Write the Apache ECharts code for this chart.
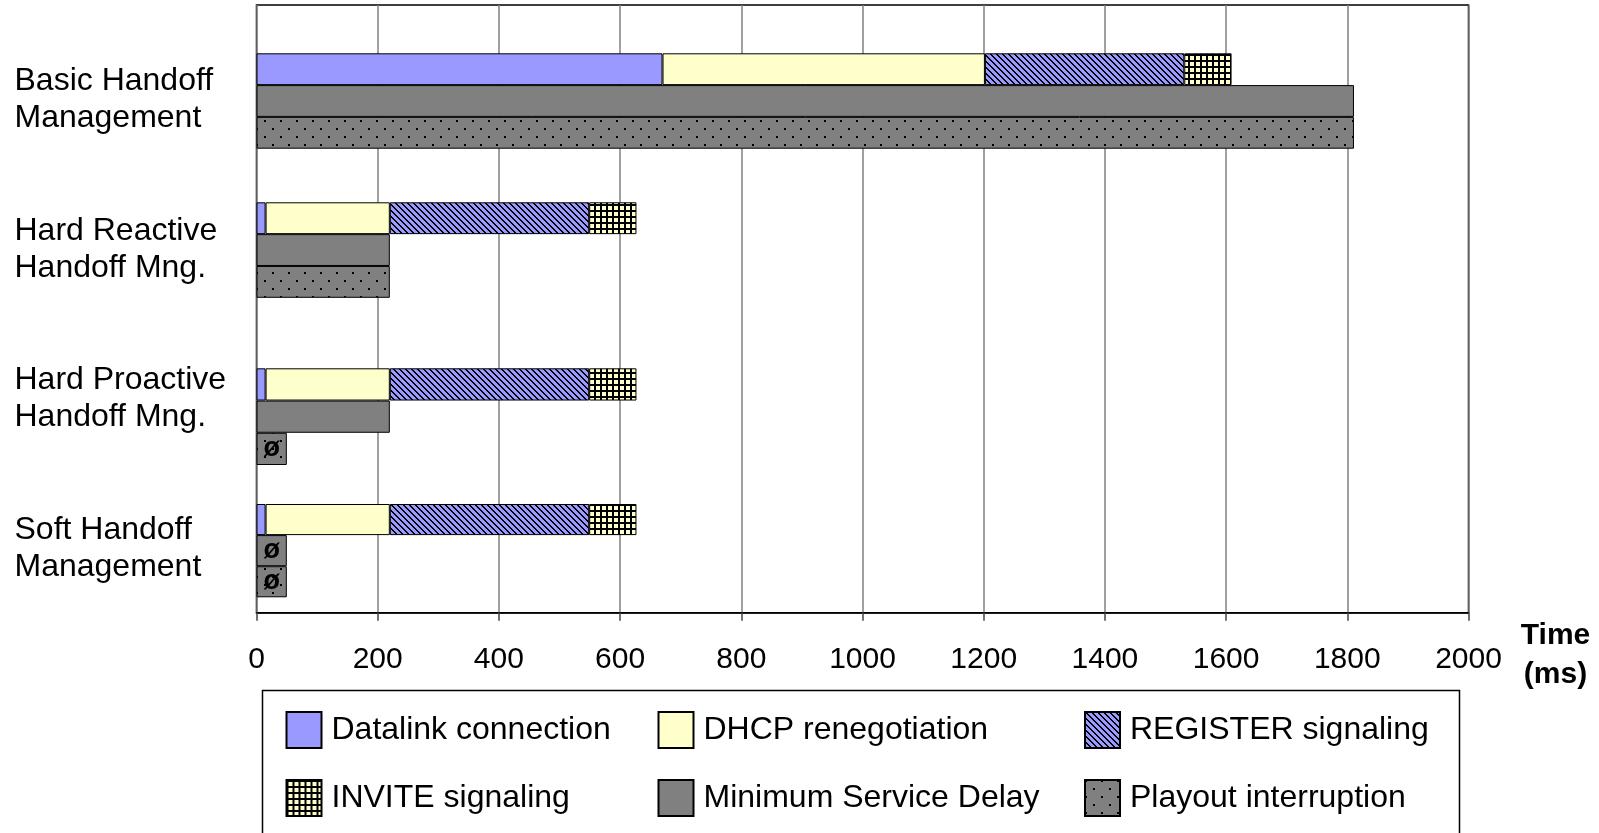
<!DOCTYPE html>
<html>
<head>
<meta charset="utf-8">
<style>
  html, body { margin: 0; padding: 0; background: #fff; }
  #chart { width: 1599px; height: 833px; }
</style>
<script src="https://cdn.jsdelivr.net/npm/echarts@6/dist/echarts.min.js"></script>
</head>
<body>
<div id="chart"></div>
<script>
// ---------------- data ----------------
const categories = [
  'Basic Handoff\nManagement',
  'Hard Reactive\nHandoff Mng.',
  'Hard Proactive\nHandoff Mng.',
  'Soft Handoff\nManagement'
];
const rowNames = ['signaling', 'service delay', 'playout'];
const datalink        = [670, 15, 15, 15];
const dhcp            = [532, 205, 205, 205];
const register        = [329, 329, 329, 329];
const invite          = [78, 78, 78, 78];
const minServiceDelay = [1811, 220, 220, 0];
const playout         = [1811, 220, 0, 0];
const xMin = 0, xMax = 2000, xInterval = 200;
const axisTitleLines = ['Time', '(ms)'];
const seriesNames = ['Datalink connection', 'DHCP renegotiation', 'REGISTER signaling',
                     'INVITE signaling', 'Minimum Service Delay', 'Playout interruption'];

// ---------------- layout / style ----------------
const FONT = 'Liberation Sans, Arial, sans-serif';
const plotLeft = 256.5, plotTop = 5, plotWidth = 1212, plotHeight = 607.7;
const groupTop    = [53.3, 202.3, 368.3, 504];
const groupHeight = [95.4, 95.5, 96.7, 93.3];
const labelLift   = [1.5, 0, 17.5, 1.5];
const ZERO_MARK_WIDTH = 50; // drawn width of a "ø" (zero) marker bar

function makePattern(w, h, bg, draw) {
  const c = document.createElement('canvas');
  c.width = w; c.height = h;
  const g = c.getContext('2d');
  g.fillStyle = bg; g.fillRect(0, 0, w, h);
  g.fillStyle = '#000';
  draw(g, w, h);
  return { image: c, repeat: 'repeat' };
}
const registerFill = makePattern(6, 6, '#9999FF', (g, w) => {
  for (let i = 0; i < w; i++) { g.fillRect(i, i, 1, 1); g.fillRect((i + 1) % w, i, 1, 1); }
});
const inviteFill = makePattern(6, 6, '#FFFFCC', (g) => {
  g.fillRect(0, 0, 6, 2); g.fillRect(0, 0, 2, 6);
});
const playoutFill = makePattern(16, 16, '#808080', (g) => {
  g.fillRect(0, 0, 2, 2); g.fillRect(8, 8, 2, 2);
});

const colors = {
  'Datalink connection': '#9999FF',
  'DHCP renegotiation': '#FFFFCC',
  'REGISTER signaling': registerFill,
  'INVITE signaling': inviteFill,
  'Minimum Service Delay': '#808080',
  'Playout interruption': playoutFill
};

const grids = [{ left: plotLeft, top: plotTop, width: plotWidth, height: plotHeight,
                 show: true, borderColor: '#000', borderWidth: 1.5, backgroundColor: 'transparent' }];
const xAxes = [{
  gridIndex: 0, type: 'value', min: xMin, max: xMax, interval: xInterval,
  axisLine: { show: true, lineStyle: { color: '#000', width: 1.5 } },
  axisTick: { show: true, length: 8, lineStyle: { color: '#444', width: 1.5 } },
  splitLine: { show: true, lineStyle: { color: '#808080', width: 1.5 } },
  axisLabel: { fontSize: 30, color: '#000', margin: 32, fontFamily: FONT,
               formatter: (v) => String(v) },
  name: '{s| }\n' + axisTitleLines.map(s => '{t|' + s + '}').join('\n'),
  nameLocation: 'end', nameGap: 87,
  nameTextStyle: {
    align: 'center', verticalAlign: 'top', fontFamily: FONT,
    rich: {
      s: { fontSize: 1, lineHeight: 4 },
      t: { fontSize: 30, fontWeight: 'bold', color: '#000', lineHeight: 39, fontFamily: FONT }
    }
  }
}];
const yAxes = [{ gridIndex: 0, type: 'value', show: false, splitLine: { show: false } }];
const series = [];

function zeroItem(v) {
  if (v === 0) {
    return { value: ZERO_MARK_WIDTH,
             label: { show: true, formatter: 'ø', position: 'inside', fontSize: 27,
                      fontWeight: 'bold', color: '#000', fontFamily: FONT } };
  }
  return v;
}

for (let i = 0; i < categories.length; i++) {
  const gi = i + 1;
  grids.push({ left: plotLeft, top: groupTop[i], width: plotWidth, height: groupHeight[i] });
  xAxes.push({ gridIndex: gi, type: 'value', min: xMin, max: xMax, show: false });
  const lift = labelLift[i];
  yAxes.push({
    gridIndex: gi, type: 'category', inverse: true, data: rowNames,
    axisLine: { show: false }, axisTick: { show: false }, splitLine: { show: false },
    axisLabel: {
      interval: 0, align: 'left', margin: plotLeft - 14.5,
      color: '#000', fontFamily: FONT,
      rich: {
        t: { fontSize: 32, lineHeight: 37, color: '#000', fontFamily: FONT },
        s: { fontSize: 1, lineHeight: Math.max(1, 2 * lift) }
      },
      formatter: (v, idx) => {
        if (idx !== 1) return '';
        let txt = categories[i].split('\n').map(s => '{t|' + s + '}').join('\n');
        if (lift > 0) txt += '\n{s| }';
        return txt;
      }
    }
  });
  const base = { type: 'bar', xAxisIndex: gi, yAxisIndex: gi, barGap: '-100%',
                 barCategoryGap: '0%', animation: false };
  const stackVals = [datalink[i], dhcp[i], register[i], invite[i]];
  for (let k = 0; k < 4; k++) {
    const name = seriesNames[k];
    series.push(Object.assign({}, base, {
      name, stack: 'handoff' + i, data: [stackVals[k], null, null],
      itemStyle: { color: colors[name], borderColor: '#000', borderWidth: 1 }
    }));
  }
  series.push(Object.assign({}, base, {
    name: seriesNames[4], data: [null, zeroItem(minServiceDelay[i]), null],
    itemStyle: { color: colors[seriesNames[4]], borderColor: '#000', borderWidth: 1 }
  }));
  series.push(Object.assign({}, base, {
    name: seriesNames[5], data: [null, null, zeroItem(playout[i])],
    itemStyle: { color: colors[seriesNames[5]], borderColor: '#000', borderWidth: 1 }
  }));
}

const legendCommon = {
  orient: 'vertical', padding: 0, itemWidth: 35, itemHeight: 36, itemGap: 30,
  icon: 'rect', selectedMode: false, top: 711,
  textStyle: { fontSize: 32, color: '#000', fontFamily: FONT, padding: [0, 0, 0, 5] }
};
const legends = [
  Object.assign({}, legendCommon, { left: 285.5, data: [seriesNames[0], seriesNames[3]] }),
  Object.assign({}, legendCommon, { left: 657.5, data: [seriesNames[1], seriesNames[4]] }),
  Object.assign({}, legendCommon, { left: 1084, data: [seriesNames[2], seriesNames[5]] })
];

const chart = echarts.init(document.getElementById('chart'), null, { renderer: 'canvas' });
chart.setOption({
  animation: false,
  backgroundColor: '#fff',
  textStyle: { fontFamily: FONT },
  grid: grids,
  xAxis: xAxes,
  yAxis: yAxes,
  legend: legends,
  series: series,
  graphic: [{
    type: 'rect', left: 260, top: 688, silent: true,
    shape: { width: 1197, height: 200 },
    style: { fill: 'none', stroke: '#000', lineWidth: 1.5 }
  }]
});
</script>
</body>
</html>
